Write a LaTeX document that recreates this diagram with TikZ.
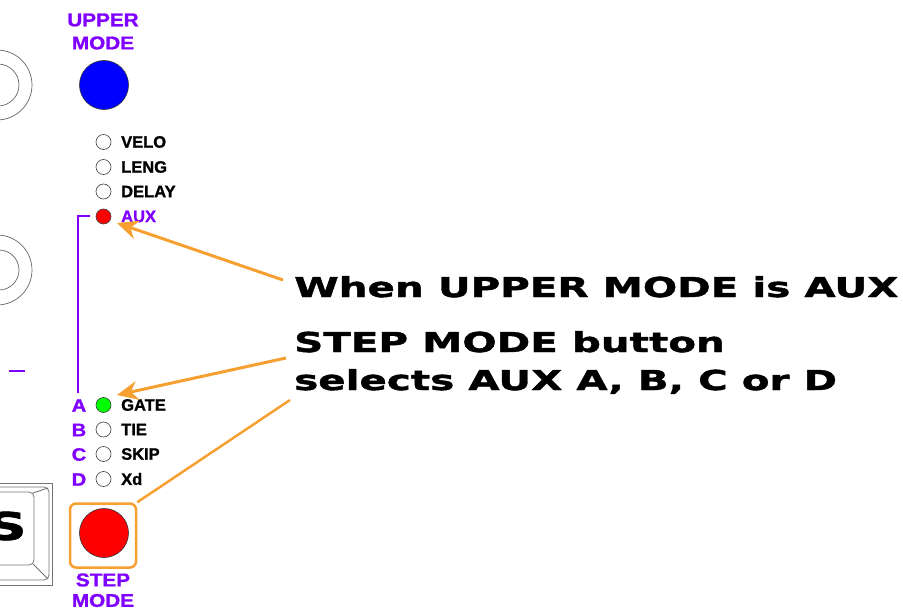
\documentclass[tikz,border=0pt]{standalone}
\usepackage{fontspec}
\setmainfont{Liberation Sans}[FakeBold=1.2]
\newfontfamily\widefont[FakeStretch=1.475,FakeBold=1.6]{DejaVu Sans}
\newfontfamily\titlefont[FakeStretch=1.12,FakeBold=1.2]{Liberation Sans}
\usetikzlibrary{arrows.meta}
\definecolor{purp}{RGB}{128,0,255}
\definecolor{orng}{RGB}{247,160,50}
\begin{document}
\begin{tikzpicture}[x=1pt,y=-1pt,
  lbl/.style={font=\fontsize{16.5}{18}\selectfont\bfseries, anchor=west, inner sep=0pt},
  plbl/.style={font=\titlefont\fontsize{18}{20}\selectfont\bfseries, text=purp, inner sep=0pt},
  ptitle/.style={font=\titlefont\fontsize{18.5}{20}\selectfont\bfseries, text=purp, inner sep=0pt},
  led/.style={circle, draw=black!75, line width=0.6pt, minimum size=15pt, inner sep=0pt},
  bigbtn/.style={circle, draw=black!80, line width=0.6pt, minimum size=49pt, inner sep=0pt},
  big/.style={font=\widefont\bfseries\fontsize{27.4}{30}\selectfont, anchor=base west, inner sep=0pt},
  arr/.style={draw=orng, line width=3pt, -{Stealth[length=21pt,width=19pt]}},
  oline/.style={draw=orng, line width=2.5pt},
  arcline/.style={draw=black!60, line width=0.7pt},
  keyline/.style={draw=black!55, line width=0.8pt}
]
\useasboundingbox (0,0) rectangle (903,610);
\clip (0,0) rectangle (903,610);

% left decorations
\draw[arcline] (-3,85) circle (35);
\draw[arcline] (-2,85) circle (21);
\draw[arcline] (-3,270) circle (35);
\draw[arcline] (-1,270) circle (20);
\draw[purp, line width=2.5pt] (9,371) -- (25,371);

% key cap
\draw[keyline] (-5,483) -- (52,483) -- (52,585) -- (-5,585);
\draw[keyline, rounded corners=5pt] (-5,487) -- (49,487) -- (49,580) -- (-5,580);
\draw[keyline, rounded corners=5pt] (-5,492) -- (34,492) -- (34,565) -- (-5,565);
\draw[keyline] (33,493) -- (48,488);
\draw[keyline] (33,564) -- (48,579);
\node[font=\widefont\bfseries\fontsize{38}{40}\selectfont, anchor=east, inner sep=0pt] (keyS) at (27,526) {S};

% upper mode
\node[ptitle] (uppert1) at (103,20) {UPPER};
\node[ptitle] (uppert2) at (103,43) {MODE};
\node[bigbtn, fill=blue] (upperbtn) at (104,85) {};

% upper LEDs
\node[led, fill=white] (velo) at (103.5,142) {};
\node[led, fill=white] (leng) at (103.5,167) {};
\node[led, fill=white] (delay) at (103.5,191.5) {};
\node[led, fill=red] (aux) at (103.5,216.5) {};
\node[lbl] (velot) at (121,142) {VELO};
\node[lbl] (lengt) at (121,167) {LENG};
\node[lbl] (delayt) at (121,191.5) {DELAY};
\node[lbl, text=purp] (auxt) at (121,216.5) {AUX};

% bracket
\coordinate (brtop) at (90,216);
\coordinate (brcorner) at (78,216);
\coordinate (brbot) at (78,393);
\draw[purp, line width=2.7pt] (brtop) -- (brcorner) -- (brbot);

% lower LEDs
\node[led, fill=green] (gate) at (103.5,405) {};
\node[led, fill=white] (tie) at (103.5,429.5) {};
\node[led, fill=white] (skip) at (103.5,454) {};
\node[led, fill=white] (xd) at (103.5,479) {};
\node[lbl] (gatet) at (121,405) {GATE};
\node[lbl] (tiet) at (121,429.5) {TIE};
\node[lbl] (skipt) at (121,454) {SKIP};
\node[lbl] (xdt) at (121,479) {Xd};
\node[plbl] (la) at (79,405.5) {A};
\node[plbl] (lb) at (79,430) {B};
\node[plbl] (lc) at (79,454.5) {C};
\node[plbl] (ld) at (79,479.5) {D};

% step mode
\node[draw=orng, line width=2.5pt, rounded corners=6pt, minimum width=66pt, minimum height=64pt, inner sep=0pt] (stepbox) at (103,535.5) {};
\node[bigbtn, fill=red] (stepbtn) at (104,533) {};
\node[ptitle] (stept1) at (103,580) {STEP};
\node[ptitle] (stept2) at (103,600.5) {MODE};

% text
\node[big] (line1) at (294,297) {When UPPER MODE is AUX};
\node[big] (line2) at (294,352) {STEP MODE button};
\node[big] (line3) at (294,390) {selects AUX A, B, C or D};

% connectors
\coordinate (s1) at (283,280);
\coordinate (auxtip) at (117,223);
\coordinate (s2) at (286,358);
\coordinate (gatetip) at (117,395);
\coordinate (s3) at (290,400);
\draw[arr] (s1) -- (auxtip);
\draw[arr] (s2) -- (gatetip);
\draw[oline] (s3) -- (stepbox.north east);
\end{tikzpicture}
\end{document}
